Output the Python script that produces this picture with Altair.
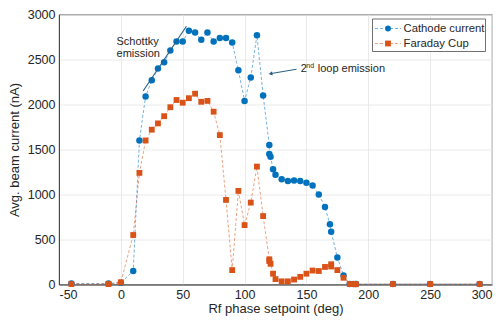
import altair as alt
import pandas as pd

# ---- data ----
cathode_x = [-40, -10, 0, 10, 15, 20, 25, 30, 35, 40, 45, 50, 55, 60, 65, 70, 75, 80, 85, 90,
             95, 100, 105, 110, 115, 120, 120, 121, 123, 125, 130, 135, 140, 145, 150, 155,
             160, 165, 169, 170, 175, 180, 185, 188, 190, 220, 250, 290]
cathode_y = [10, 10, 20, 150, 1600, 2090, 2270, 2400, 2470, 2600, 2700, 2700, 2820, 2800, 2720,
             2800, 2700, 2740, 2740, 2690, 2380, 2040, 2300, 2770, 2100, 1550, 1450, 1420, 1280,
             1220, 1170, 1150, 1155, 1150, 1130, 1100, 1000, 860, 670, 585, 300, 100, 5, 5, 5,
             5, 5, 5]

faraday_x = [-40, -10, 0, 10, 15, 20, 25, 30, 35, 40, 45, 50, 55, 60, 65, 70, 75, 80, 85, 90,
             95, 100, 105, 110, 115, 120, 120, 121, 123, 125, 130, 135, 140, 145, 150, 155,
             160, 165, 170, 170, 175, 180, 185, 188, 190, 220, 250, 290]
faraday_y = [5, 5, 25, 550, 1240, 1600, 1720, 1790, 1870, 1970, 2050, 2020, 2070, 2120, 2030,
             2040, 1920, 1660, 940, 160, 1040, 660, 910, 1310, 760, 280, 260, 230, 120, 60, 35,
             35, 55, 85, 120, 155, 150, 195, 225, 200, 160, 75, 5, 5, 3, 5, 5, 5]

series_names = ["Cathode current", "Faraday Cup"]
x_ticks = [-50, 0, 50, 100, 150, 200, 250, 300]
y_ticks = [0, 500, 1000, 1500, 2000, 2500, 3000]

fit_x = [18, 53]
fit_y = [2150, 2870]
schottky_lines = ["Schottky", "emission"]
schottky_pos = (-3.5, [2698, 2558])
arrow_x = [142, 121]
arrow_y = [2392, 2343]

BLUE = "#0072BD"
ORANGE = "#D95319"
DARK = "#2b5d80"
FONT = "Liberation Sans"

cat = pd.DataFrame({"x": cathode_x, "y": cathode_y, "i": range(len(cathode_x))})
far = pd.DataFrame({"x": faraday_x, "y": faraday_y, "i": range(len(faraday_x))})

xenc = alt.X("x:Q", scale=alt.Scale(domain=[-50, 300], nice=False, zero=False),
             axis=alt.Axis(values=x_ticks, title="Rf phase setpoint (deg)", labelExpr="replace(datum.label, '\u2212', '-')"))
yenc = alt.Y("y:Q", scale=alt.Scale(domain=[0, 3000], nice=False),
             axis=alt.Axis(values=y_ticks, format="d", title="Avg. beam current (nA)"))

cat_line = alt.Chart(cat).mark_line(color=BLUE, strokeDash=[3, 2], strokeWidth=0.9, opacity=0.6).encode(
    x=xenc, y=yenc, order="i:Q")
cat_pts = alt.Chart(cat).mark_point(shape="circle", filled=True, size=42, color=BLUE, opacity=1).encode(
    x="x:Q", y="y:Q")
far_line = alt.Chart(far).mark_line(color=ORANGE, strokeDash=[3, 2], strokeWidth=0.9, opacity=0.6).encode(
    x="x:Q", y="y:Q", order="i:Q")
far_pts = alt.Chart(far).mark_point(shape="square", filled=True, size=34, color=ORANGE, opacity=1).encode(
    x="x:Q", y="y:Q")

fit = alt.Chart(pd.DataFrame({"x": fit_x, "y": fit_y})).mark_line(color=DARK, strokeWidth=1.1).encode(
    x="x:Q", y="y:Q")

sch = alt.Chart(pd.DataFrame({"x": [schottky_pos[0]] * 2, "y": schottky_pos[1], "t": schottky_lines})).mark_text(
    align="left", baseline="middle", font=FONT, fontSize=11, color="#262626").encode(
    x="x:Q", y="y:Q", text="t:N")

arr_df = pd.DataFrame({"x": [arrow_x[0]], "y": [arrow_y[0]], "x2": [arrow_x[1]], "y2": [arrow_y[1]]})
arrow_line = alt.Chart(arr_df).mark_rule(color=DARK, strokeWidth=1).encode(
    x="x:Q", y="y:Q", x2="x2:Q", y2="y2:Q")
arrow_head = alt.Chart(pd.DataFrame({"x": [arrow_x[1]], "y": [arrow_y[1]]})).mark_point(
    shape="triangle-up", filled=True, size=18, color=DARK, angle=260, opacity=1).encode(x="x:Q", y="y:Q")

loop_df = pd.DataFrame({"x": [145.4], "y": [2392]})
t2 = alt.Chart(loop_df).mark_text(align="left", baseline="middle", font=FONT, fontSize=11,
                                  color="#262626", text="2").encode(x="x:Q", y="y:Q")
tnd = alt.Chart(loop_df).mark_text(align="left", baseline="middle", font=FONT, fontSize=7,
                                   color="#262626", text="nd", dx=5.5, dy=-3).encode(x="x:Q", y="y:Q")
tloop = alt.Chart(loop_df).mark_text(align="left", baseline="middle", font=FONT, fontSize=11,
                                     color="#262626", text="loop emission", dx=17).encode(x="x:Q", y="y:Q")

# manual legend (pixel positions inside plot area)
one = pd.DataFrame({"a": [0]})
leg_box = alt.Chart(one).mark_rect(fill="white", stroke="#333333", strokeWidth=0.7).encode(
    x=alt.value(313.5), x2=alt.value(426.5), y=alt.value(4.5), y2=alt.value(37))
leg_items = []
for name, col, shp, ypix in [(series_names[0], BLUE, "circle", 14), (series_names[1], ORANGE, "square", 29)]:
    leg_items.append(alt.Chart(one).mark_rule(color=col, strokeDash=[3, 2], strokeWidth=0.9, opacity=0.6).encode(
        x=alt.value(316), x2=alt.value(342), y=alt.value(ypix)))
    leg_items.append(alt.Chart(one).mark_point(shape=shp, filled=True, size=34, color=col, opacity=1).encode(
        x=alt.value(329), y=alt.value(ypix)))
    leg_items.append(alt.Chart(one).mark_text(align="left", baseline="middle", font=FONT, fontSize=11.3,
                                              color="#262626", text=name).encode(
        x=alt.value(344.5), y=alt.value(ypix)))

chart = alt.layer(cat_line, cat_pts, far_line, far_pts, fit, sch, arrow_line, arrow_head,
                  t2, tnd, tloop, leg_box, *leg_items).properties(
    width=433, height=270,
    autosize=alt.AutoSizeParams(type="none"),
    padding={"left": 51, "top": 6.5, "right": 2, "bottom": 31.5},
).configure_view(stroke="#262626", strokeWidth=0.8).configure_axis(
    labelFont=FONT, titleFont=FONT, labelFontSize=12.5, titleFontSize=13, titleFontWeight="normal",
    labelColor="#262626", titleColor="#262626", gridColor="#e5e5e5", gridWidth=0.8,
    domainColor="#262626", domainWidth=0.8, tickColor="#262626", tickSize=3, ticks=False,
    labelPadding=4,
).configure_axisY(titlePadding=6).configure_axisX(titlePadding=1)

chart.save("out.html", embed_options={"renderer": "svg", "actions": False})
